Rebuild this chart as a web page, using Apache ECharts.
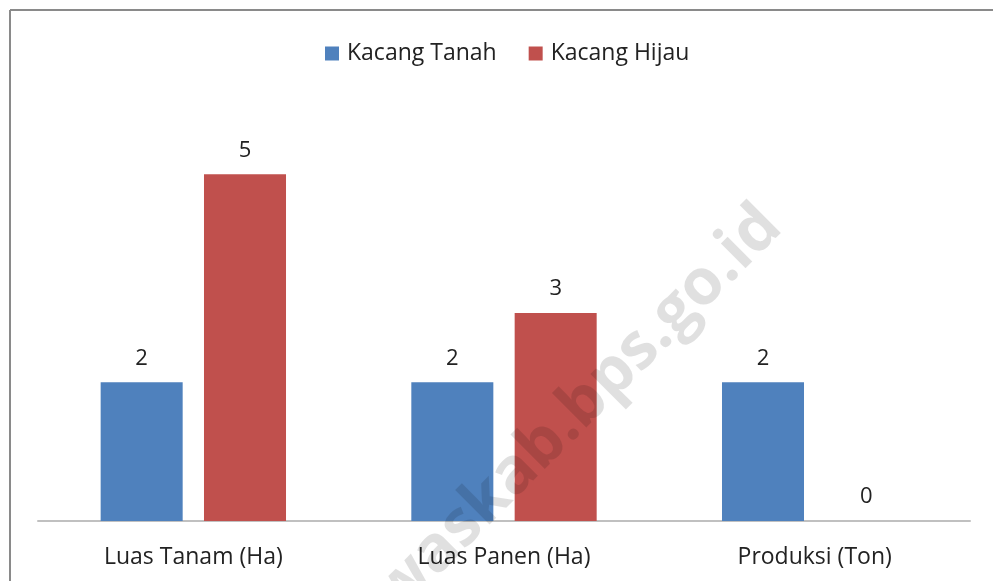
<!DOCTYPE html>
<html>
<head>
<meta charset="utf-8">
<script src="https://cdn.jsdelivr.net/npm/echarts@6/dist/echarts.min.js"></script>
<style>
  html, body { margin: 0; padding: 0; background: #fff; }
  #chart { width: 993px; height: 581px; }
</style>
</head>
<body>
<div id="chart"></div>
<script>
// data
const categories = ['Luas Tanam (Ha)', 'Luas Panen (Ha)', 'Produksi (Ton)'];
const seriesNames = ['Kacang Tanah', 'Kacang Hijau'];
const kacangTanah = [2, 2, 2];
const kacangHijau = [5, 3, 0];

var myChart = echarts.init(document.getElementById('chart'));

var font = 'Open Sans';

var option = {
  animation: false,
  textStyle: { fontFamily: font },
  legend: {
    data: seriesNames,
    top: 37,
    left: 320,
    itemWidth: 14,
    itemHeight: 14,
    itemGap: 32,
    icon: 'rect',
    textStyle: { fontSize: 23, color: '#222', fontFamily: font, padding: [0, 0, 0, 3] }
  },
  grid: { left: 38, right: 23, top: 105, bottom: 60 },
  xAxis: {
    type: 'category',
    data: categories,
    axisLine: { show: true, lineStyle: { color: '#c0c0c0', width: 2 } },
    axisTick: { show: false },
    axisLabel: { fontSize: 23, color: '#222', margin: 25, fontFamily: font }
  },
  yAxis: {
    type: 'value',
    min: 0,
    max: 6,
    interval: 1,
    show: false,
    splitLine: { show: false }
  },
  series: [
    {
      name: seriesNames[0],
      type: 'bar',
      data: kacangTanah,
      barWidth: '26.4%',
      barGap: '26%',
      itemStyle: { color: '#4f81bd' },
      label: { show: true, position: 'top', distance: 13, fontSize: 22, color: '#222', fontFamily: font }
    },
    {
      name: seriesNames[1],
      type: 'bar',
      data: kacangHijau,
      barWidth: '26.4%',
      itemStyle: { color: '#c0504d' },
      label: { show: true, position: 'top', distance: 13, fontSize: 22, color: '#222', fontFamily: font }
    }
  ],
  graphic: [
    // frame
    { type: 'line', shape: { x1: 10, y1: 10, x2: 993, y2: 10 }, style: { stroke: '#8a8a8a', lineWidth: 2 } },
    { type: 'line', shape: { x1: 10, y1: 10, x2: 10, y2: 581 }, style: { stroke: '#8a8a8a', lineWidth: 2 } },
    // watermark
    {
      type: 'text',
      x: 578,
      y: 410,
      rotation: Math.PI / 4,
      z: 100,
      style: {
        text: 'waskab.bps.go.id',
        font: 'bold 64px "Open Sans"',
        fill: 'rgba(0,0,0,0.12)',
        align: 'center',
        verticalAlign: 'middle'
      }
    }
  ]
};

myChart.setOption(option);
</script>
</body>
</html>
